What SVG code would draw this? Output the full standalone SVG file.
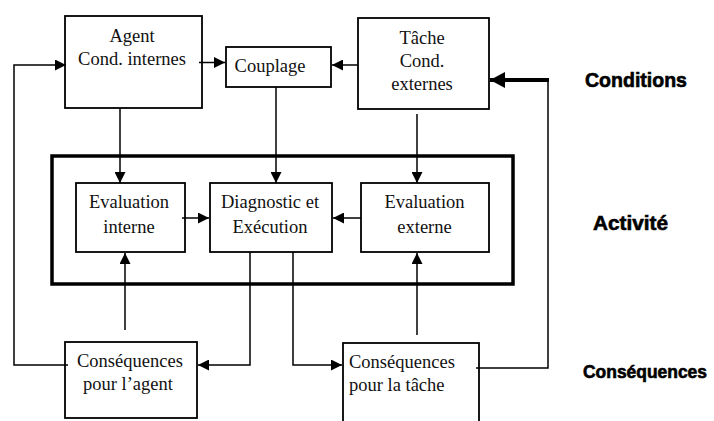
<svg xmlns="http://www.w3.org/2000/svg" width="714" height="421" viewBox="0 0 714 421">
<style>
.box{fill:#fff;stroke:#000;stroke-width:1.8}
.big{fill:none;stroke:#000;stroke-width:3.5}
.t{font-family:"Liberation Serif","Times New Roman",serif;font-size:18.5px;fill:#111}
.lbl{font-family:"Liberation Sans",Arial,sans-serif;font-weight:bold;font-size:20px;fill:#000;stroke:#000;stroke-width:0.6}
.c{fill:none;stroke:#000;stroke-width:1.5}
.thick{fill:none;stroke:#000;stroke-width:4}
</style>
<defs>
<marker id="ah" markerUnits="userSpaceOnUse" markerWidth="11" markerHeight="11" refX="11" refY="5.5" orient="auto">
<path d="M0,0 L11,5.5 L0,11 z" fill="#000"/>
</marker>
<marker id="ahb" markerUnits="userSpaceOnUse" markerWidth="16" markerHeight="16" refX="15" refY="8" orient="auto">
<path d="M0,0 L15,8 L0,16 z" fill="#000"/>
</marker>
</defs>
<rect width="714" height="421" fill="#fff"/>

<g id="activite-cadre"><rect class="big" x="52" y="156" width="461" height="128"/></g>

<g id="agent"><rect class="box" x="65" y="16" width="137" height="92"/>
<text class="t" x="132" y="42" text-anchor="middle">Agent</text>
<text class="t" x="132" y="65" text-anchor="middle">Cond. internes</text></g>

<g id="couplage"><rect class="box" x="226" y="47" width="105" height="40"/>
<text class="t" x="270" y="72" text-anchor="middle">Couplage</text></g>

<g id="tache"><rect class="box" x="358" y="18" width="131" height="91"/>
<text class="t" x="422" y="44" text-anchor="middle">Tâche</text>
<text class="t" x="422" y="67" text-anchor="middle">Cond.</text>
<text class="t" x="422" y="90" text-anchor="middle">externes</text></g>

<g id="eval-interne"><rect class="box" x="76" y="183" width="109" height="69"/>
<text class="t" x="129" y="208" text-anchor="middle">Evaluation</text>
<text class="t" x="129" y="233" text-anchor="middle">interne</text></g>

<g id="diagnostic"><rect class="box" x="210" y="183" width="122" height="69"/>
<text class="t" x="270" y="208" text-anchor="middle">Diagnostic et</text>
<text class="t" x="270" y="233" text-anchor="middle">Exécution</text></g>

<g id="eval-externe"><rect class="box" x="361" y="183" width="128" height="69"/>
<text class="t" x="424.5" y="208" text-anchor="middle">Evaluation</text>
<text class="t" x="424.5" y="233" text-anchor="middle">externe</text></g>

<g id="consequences-agent"><rect class="box" x="65" y="342" width="132" height="76"/>
<text class="t" x="77" y="367">Conséquences</text>
<text class="t" x="83" y="390">pour l’agent</text></g>

<g id="consequences-tache"><rect class="box" x="343" y="343" width="136" height="90"/>
<text class="t" x="349" y="368">Conséquences</text>
<text class="t" x="349" y="391">pour la tâche</text></g>

<g id="labels">
<text class="lbl" x="585" y="87" textLength="102" lengthAdjust="spacingAndGlyphs">Conditions</text>
<text class="lbl" x="593" y="230" textLength="75" lengthAdjust="spacingAndGlyphs">Activité</text>
<text class="lbl" x="583" y="378" style="font-size:17.5px" textLength="124" lengthAdjust="spacingAndGlyphs">Conséquences</text>
</g>

<g id="connectors">
<path class="c" d="M199,62.5 H225" marker-end="url(#ah)"/>
<path class="c" d="M358,65 H332" marker-end="url(#ah)"/>
<path class="c" d="M120,108 V183" marker-end="url(#ah)"/>
<path class="c" d="M276,87 V183" marker-end="url(#ah)"/>
<path class="c" d="M417,114 V183" marker-end="url(#ah)"/>
<path class="c" d="M182,218 H209" marker-end="url(#ah)"/>
<path class="c" d="M361,218 H333" marker-end="url(#ah)"/>
<path class="c" d="M125,330 V253" marker-end="url(#ah)"/>
<path class="c" d="M417,335 V253" marker-end="url(#ah)"/>
<path class="c" d="M250,252 V365 H198" marker-end="url(#ah)"/>
<path class="c" d="M293,252 V365 H342" marker-end="url(#ah)"/>
<path class="c" d="M68,365 H14 V65 H66" marker-end="url(#ah)"/>
<path class="c" d="M476,368 H548 V80 H546"/>
<path class="thick" d="M549,80 H490" marker-end="url(#ahb)"/>
</g>
</svg>
